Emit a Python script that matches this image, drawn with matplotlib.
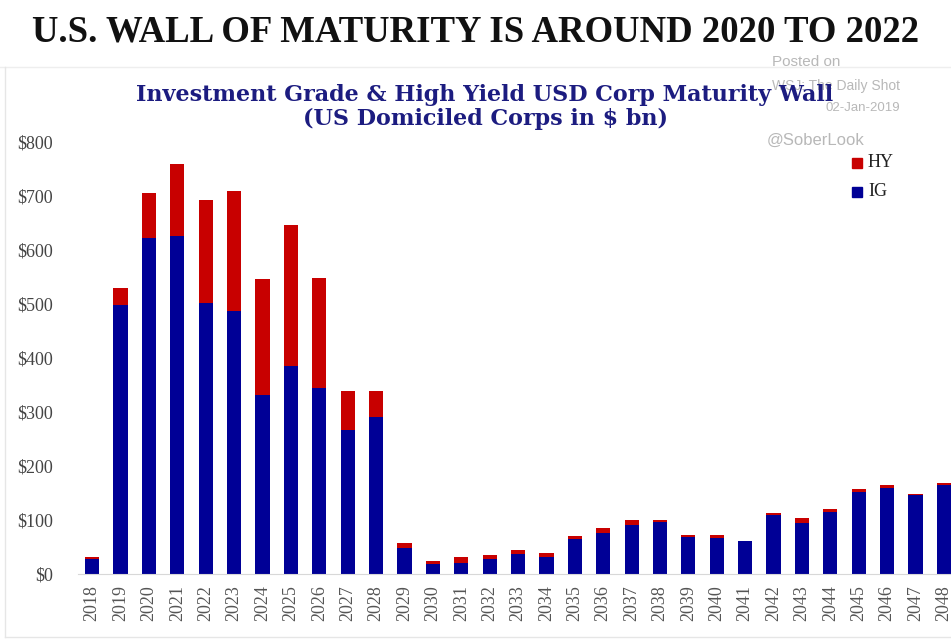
import numpy as np
import matplotlib
matplotlib.use("Agg")
import matplotlib.pyplot as plt
from matplotlib.patches import Rectangle
from matplotlib.lines import Line2D

# -------
# Data (US$ bn)
# -------
years = [str(y) for y in range(2018, 2049)]
ig = [28, 498, 622, 626, 502, 487, 332, 385, 344, 267, 291, 48, 19, 20,
      27, 37, 32, 65, 76, 91, 96, 68, 67, 62, 109, 94, 115, 152, 160, 147, 164]
hy = [4, 32, 84, 133, 191, 222, 214, 261, 204, 72, 48, 9, 5, 12,
      8, 7, 7, 5, 9, 9, 4, 4, 5, 0, 4, 10, 5, 5, 4, 1, 4]
yticks = [0, 100, 200, 300, 400, 500, 600, 700, 800]

RED = "#c80000"
BLUE = "#000096"
serif = ["Liberation Serif", "DejaVu Serif"]

fig = plt.figure(figsize=(9.51, 6.44), dpi=100)
ax = fig.add_axes([78 / 951, 70 / 644, 1 - 78 / 951, (574 - 142) / 644])

x = np.arange(len(years))
ax.bar(x, ig, width=0.5, color=BLUE, zorder=2)
ax.bar(x, hy, width=0.5, bottom=ig, color=RED, zorder=2)

ax.set_xlim(-0.5, 30.25)
ax.set_ylim(0, 800)
ax.set_yticks(yticks)
ax.set_yticklabels([f"${v}" for v in yticks], fontfamily=serif, fontsize=13,
                   color="#444444")
ax.tick_params(axis="y", length=0, pad=18)
ax.set_xticks(x)
ax.set_xticklabels(years, rotation=90, fontfamily=serif, fontsize=13, color="#555555")
ax.tick_params(axis="x", length=0, pad=8)
for s in ["top", "right", "left"]:
    ax.spines[s].set_visible(False)
ax.spines["bottom"].set_color("#d8d8d8")

# watermark (sits behind the subtitle)
wm = dict(ha="right", va="center", color="#b8b8b8", fontfamily="Liberation Sans")
fig.text(840 / 951, 1 - 62 / 644, "Posted on", fontsize=11, **wm)
fig.text(900 / 951, 1 - 86 / 644, "WSJ: The Daily Shot", fontsize=10, **wm)
fig.text(900 / 951, 1 - 108 / 644, "02-Jan-2019", fontsize=9.5, **wm)
fig.text(864 / 951, 1 - 140 / 644, "@SoberLook", fontsize=12, **wm)

# titles
fig.text(0.5, 1 - 32 / 644, "U.S. WALL OF MATURITY IS AROUND 2020 TO 2022",
         ha="center", va="center", fontfamily=serif, fontsize=26.5,
         fontweight="bold", color="#111111")
sub = dict(ha="center", va="center", fontfamily="DejaVu Serif", fontsize=16,
           fontweight="bold", color="#1c1c80")
fig.text(485 / 951, 1 - 95 / 644,
         "Investment Grade & High Yield USD Corp Maturity Wall", **sub)
fig.text(485 / 951, 1 - 119 / 644, "(US Domiciled Corps in $ bn)", **sub)

# legend
for label, col, yy in [("HY", RED, 163), ("IG", BLUE, 192)]:
    fig.patches.append(Rectangle((852 / 951, 1 - (yy + 5) / 644), 10 / 951, 10 / 644,
                                 transform=fig.transFigure, color=col))
    fig.text(868 / 951, 1 - yy / 644, label, ha="left", va="center",
             fontfamily=serif, fontsize=13, color="#222222")

# faint frame lines
fig.lines.append(Line2D([0, 1], [1 - 67 / 644] * 2, transform=fig.transFigure,
                        color="#eeeeee", lw=1))
fig.lines.append(Line2D([5 / 951] * 2, [1 - 67 / 644, 1 - 637 / 644],
                        transform=fig.transFigure, color="#e6e6e6", lw=1))
fig.lines.append(Line2D([5 / 951, 1], [1 - 637 / 644] * 2, transform=fig.transFigure,
                        color="#e6e6e6", lw=1))

fig.savefig("out.png", dpi=100)
